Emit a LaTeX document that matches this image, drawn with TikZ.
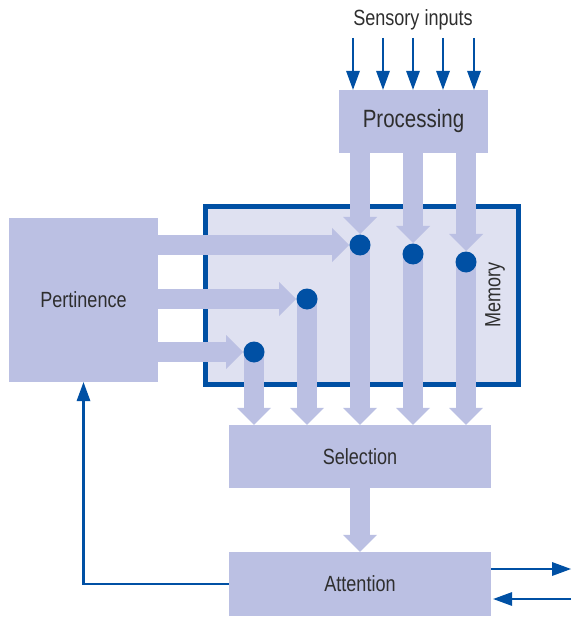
\documentclass[tikz,border=0pt]{standalone}
\usepackage{fontspec}
\setmainfont{Liberation Sans}[FakeStretch=0.82]
\usetikzlibrary{arrows.meta,positioning}
\definecolor{boxfill}{HTML}{BBC0E3}
\definecolor{memfill}{HTML}{DFE1F1}
\definecolor{darkblue}{HTML}{0050A4}
\definecolor{textgray}{HTML}{2E2E2E}

\begin{document}
\begin{tikzpicture}[x=1pt,y=-1pt,
  box/.style={fill=boxfill,minimum width=149pt,minimum height=63pt,inner sep=0pt,
    text=textgray,font=\fontsize{22}{26}\selectfont},
  flow/.style={boxfill,line width=20pt,-{Triangle[length=17pt,width=34pt,line width=0pt]}},
  signal/.style={darkblue,line width=2.2pt,-{Triangle[length=19pt,width=14pt,line width=0pt]}},
  dot/.style={circle,fill=darkblue,inner sep=0pt,minimum size=21pt}]
\useasboundingbox (0,0) rectangle (571,617);
% Memory
\node[draw=darkblue,line width=5pt,fill=memfill,minimum width=313pt,minimum height=178pt,inner sep=0pt] (mem) at (362,295.5) {};
\node[rotate=90,text=textgray,font=\fontsize{22}{26}\selectfont] (memlabel) at (495,295) {Memory};
% boxes
\node[box,font=\fontsize{25}{30}\selectfont] (proc) at (413.5,121.5) {Processing};
\node[box,minimum height=164pt] (pert) at (83.5,300) {Pertinence};
\node[box,minimum width=262pt] (sel) at (360,456.5) {Selection};
\node[box,minimum width=262pt,minimum height=64pt] (att) at (360,584) {Attention};
\node[text=textgray,font=\fontsize{22}{26}\selectfont] (sensory) at (413,20) {Sensory inputs};
% junctions
\coordinate (D1) at (360,245);
\coordinate (D2) at (413,254);
\coordinate (D3) at (466,262);
\coordinate (D4) at (307,299);
\coordinate (D5) at (254,352);
% wide arrows
\foreach \d in {1,2,3}
\draw[flow,shorten >=11pt] (proc.south -| D\d) -- (D\d);
\foreach \d in {1,4,5}
\draw[flow,shorten >=11pt] (pert.east |- D\d) -- (D\d);
\foreach \d in {1,...,5}
\draw[flow] (D\d) -- (sel.north -| D\d);
\draw[flow] (sel) -- (att);
\foreach \d in {1,...,5}
\node[dot] (dot\d) at (D\d) {};
% inputs and outputs
\foreach \x [count=\i] in {353,383,413,443,474}{
\coordinate (in\i) at (\x,38);
\draw[signal] (in\i) -- (in\i |- proc.north);
}
\draw[signal] (att.west) -| (pert.south);
\coordinate (out) at (571,569);
\coordinate (back) at (571,599);
\draw[signal] (att.east |- out) -- (out);
\draw[signal,shorten >=2pt] (back) -- (att.east |- back);
\end{tikzpicture}
\end{document}
